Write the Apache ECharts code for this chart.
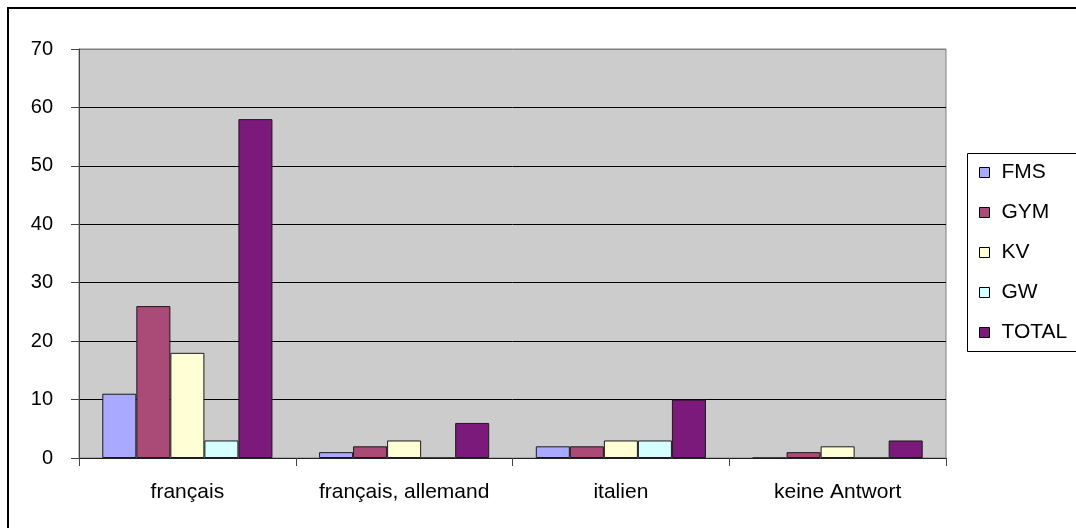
<!DOCTYPE html>
<html>
<head>
<meta charset="utf-8">
<script src="https://cdn.jsdelivr.net/npm/echarts@6/dist/echarts.min.js"></script>
<style>
  html, body { margin: 0; padding: 0; background: #fff; }
  #chart { width: 1076px; height: 528px; }
</style>
</head>
<body>
<div id="chart"></div>
<script>
// Languages of answers, per school type
const categories = ['français', 'français, allemand', 'italien', 'keine Antwort'];
const seriesNames = ['FMS', 'GYM', 'KV', 'GW', 'TOTAL'];
const fms   = [11, 1, 2, 0];
const gym   = [26, 2, 2, 1];
const kv    = [18, 3, 3, 2];
const gw    = [3, 0, 3, 0];
const total = [58, 6, 10, 3];
const yTicks = [0, 10, 20, 30, 40, 50, 60, 70];

const seriesValues = [fms, gym, kv, gw, total];
const seriesColors = ['#a9a9ff', '#aa4a77', '#ffffd5', '#d5ffff', '#7b1a7b'];
const fontFamily = '"Liberation Sans", Arial, sans-serif';

const chart = echarts.init(document.getElementById('chart'), null, { renderer: 'canvas' });

chart.setOption({
  animation: false,
  backgroundColor: '#ffffff',
  textStyle: { fontFamily: fontFamily },
  grid: {
    left: 79, top: 49, right: 130, bottom: 70,
    show: true,
    backgroundColor: '#cccccc',
    borderColor: '#808080',
    borderWidth: 1
  },
  legend: {
    orient: 'vertical',
    left: 979,
    top: 162,
    padding: 0,
    itemGap: 19,
    itemWidth: 10,
    itemHeight: 10,
    icon: 'rect',
    data: seriesNames,
    itemStyle: { borderColor: '#000', borderWidth: 1 },
    textStyle: {
      fontFamily: fontFamily,
      fontSize: 21,
      lineHeight: 21,
      color: '#000',
      padding: [0, 0, 0, 7]
    }
  },
  graphic: [
    {
      type: 'rect',
      silent: true,
      shape: { x: 8, y: 8, width: 1100, height: 600 },
      style: { fill: 'none', stroke: '#000', lineWidth: 2 },
      z: 100
    },
    {
      type: 'rect',
      silent: true,
      shape: { x: 967.5, y: 153.5, width: 140, height: 198 },
      style: { fill: 'none', stroke: '#000', lineWidth: 1 },
      z: 100
    }
  ],
  xAxis: {
    type: 'category',
    data: categories,
    boundaryGap: true,
    axisLine: { lineStyle: { color: '#222', width: 1 } },
    axisTick: { show: true, interval: 0, length: 8, lineStyle: { color: '#444' } },
    axisLabel: {
      color: '#000', fontSize: 21, margin: 24, fontFamily: fontFamily,
      interval: 0, hideOverlap: false
    },
    splitLine: { show: false }
  },
  yAxis: {
    type: 'value',
    min: yTicks[0],
    max: yTicks[yTicks.length - 1],
    interval: 10,
    axisLine: { show: true, lineStyle: { color: '#444', width: 1 } },
    axisTick: { show: true, length: 8, lineStyle: { color: '#444' } },
    axisLabel: { color: '#000', fontSize: 20, margin: 26, fontFamily: fontFamily },
    splitLine: {
      show: true,
      lineStyle: {
        color: ['#000', '#000', '#000', '#000', '#000', '#000', '#000', '#808080'],
        width: 1
      }
    }
  },
  series: seriesNames.map((name, i) => ({
    name: name,
    type: 'bar',
    data: seriesValues[i],
    barGap: '0%',
    barCategoryGap: '21.5%',
    itemStyle: { color: seriesColors[i], borderColor: '#1a1a1a', borderWidth: 1 }
  }))
});
</script>
</body>
</html>
